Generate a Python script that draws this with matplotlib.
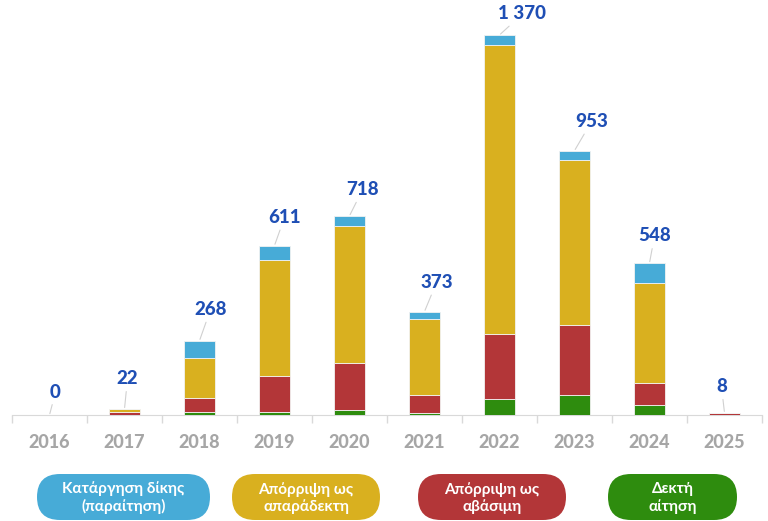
import matplotlib.pyplot as plt
from matplotlib.patches import FancyBboxPatch

plt.rcParams['font.family'] = ['Lato', 'Noto Sans', 'DejaVu Sans']

years = ['2016', '2017', '2018', '2019', '2020', '2021', '2022', '2023', '2024', '2025']
accepted = [0, 0, 10, 10, 18, 6, 57, 71, 35, 0]          # Δεκτή αίτηση
unfounded = [0, 12, 50, 132, 171, 66, 234, 254, 81, 8]   # Απόρριψη ως αβάσιμη
inadmissible = [0, 10, 146, 415, 492, 275, 1042, 593, 361, 0]  # Απόρριψη ως απαράδεκτη
withdrawn = [0, 0, 62, 54, 37, 26, 37, 35, 71, 0]       # Κατάργηση δίκης (παραίτηση)
totals = [0, 22, 268, 611, 718, 373, 1370, 953, 548, 8]

legend_names = ['Κατάργηση δίκης\n(παραίτηση)', 'Απόρριψη ως\nαπαράδεκτη',
                'Απόρριψη ως\nαβάσιμη', 'Δεκτή\nαίτηση']

c_green = '#2e8c0e'
c_red = '#b33638'
c_yellow = '#d9b01f'
c_blue = '#47abd7'
label_blue = '#1f4fb5'

# where each total label sits relative to its bar top (pixels)
label_offsets = [(6, 23), (3, 30), (11, 31), (10, 28), (13, 26),
                 (12, 29), (23, 21), (17, 29), (5, 27), (-3, 26)]

fig = plt.figure(figsize=(7.68, 5.21), dpi=100)
ax = fig.add_axes([12 / 768, 106 / 521, 750 / 768, 415 / 521])

x = list(range(len(years)))
w = 0.405
bottom = [0] * len(years)
for vals, col in [(accepted, c_green), (unfounded, c_red),
                  (inadmissible, c_yellow), (withdrawn, c_blue)]:
    ax.bar(x, vals, w, bottom=bottom, color=col, edgecolor='#f2f2f2',
           linewidth=0.6, zorder=3)
    bottom = [b + v for b, v in zip(bottom, vals)]

for i, t in enumerate(totals):
    dx, dy = label_offsets[i]
    ax.annotate(f"{t:,}".replace(",", " "), xy=(i, t), xytext=(dx, dy),
                textcoords='offset pixels', ha='center', va='center',
                fontsize=13.5, fontweight='black', color=label_blue,
                arrowprops=dict(arrowstyle='-', color='#d0d0d0', lw=0.8,
                                shrinkA=1, shrinkB=1))

ax.set_xlim(-0.5, 9.5)
ax.set_ylim(0, 1496)
ax.set_yticks([])
ax.set_xticks(x)
ax.set_xticklabels(years, fontsize=13, fontweight='black', color='#a6a6a6')
ax.set_xticks([i - 0.5 for i in range(len(years) + 1)], minor=True)
ax.tick_params(axis='x', which='major', length=0, pad=14)
ax.tick_params(axis='x', which='minor', length=6, color='#d9d9d9', width=1)
for s in ['top', 'left', 'right']:
    ax.spines[s].set_visible(False)
ax.spines['bottom'].set_color('#d9d9d9')

# legend pills drawn in pixel space
ov = fig.add_axes([0, 0, 1, 1])
ov.set_xlim(0, 768)
ov.set_ylim(521, 0)
ov.axis('off')
pills = [(37, 210, c_blue), (232, 380, c_yellow), (418, 566, c_red), (608, 737, c_green)]
for (x0, x1, col), name in zip(pills, legend_names):
    y0, y1 = 474, 520
    h = y1 - y0
    ov.add_patch(FancyBboxPatch((x0, y0), x1 - x0, h,
                                boxstyle=f"round,pad=0,rounding_size={h / 2}",
                                facecolor=col, edgecolor='none'))
    ov.text((x0 + x1) / 2, (y0 + y1) / 2 + 1, name, ha='center', va='center',
            color='white', fontsize=11, fontweight='bold', linespacing=1.25)

fig.savefig('out.png', dpi=100)
